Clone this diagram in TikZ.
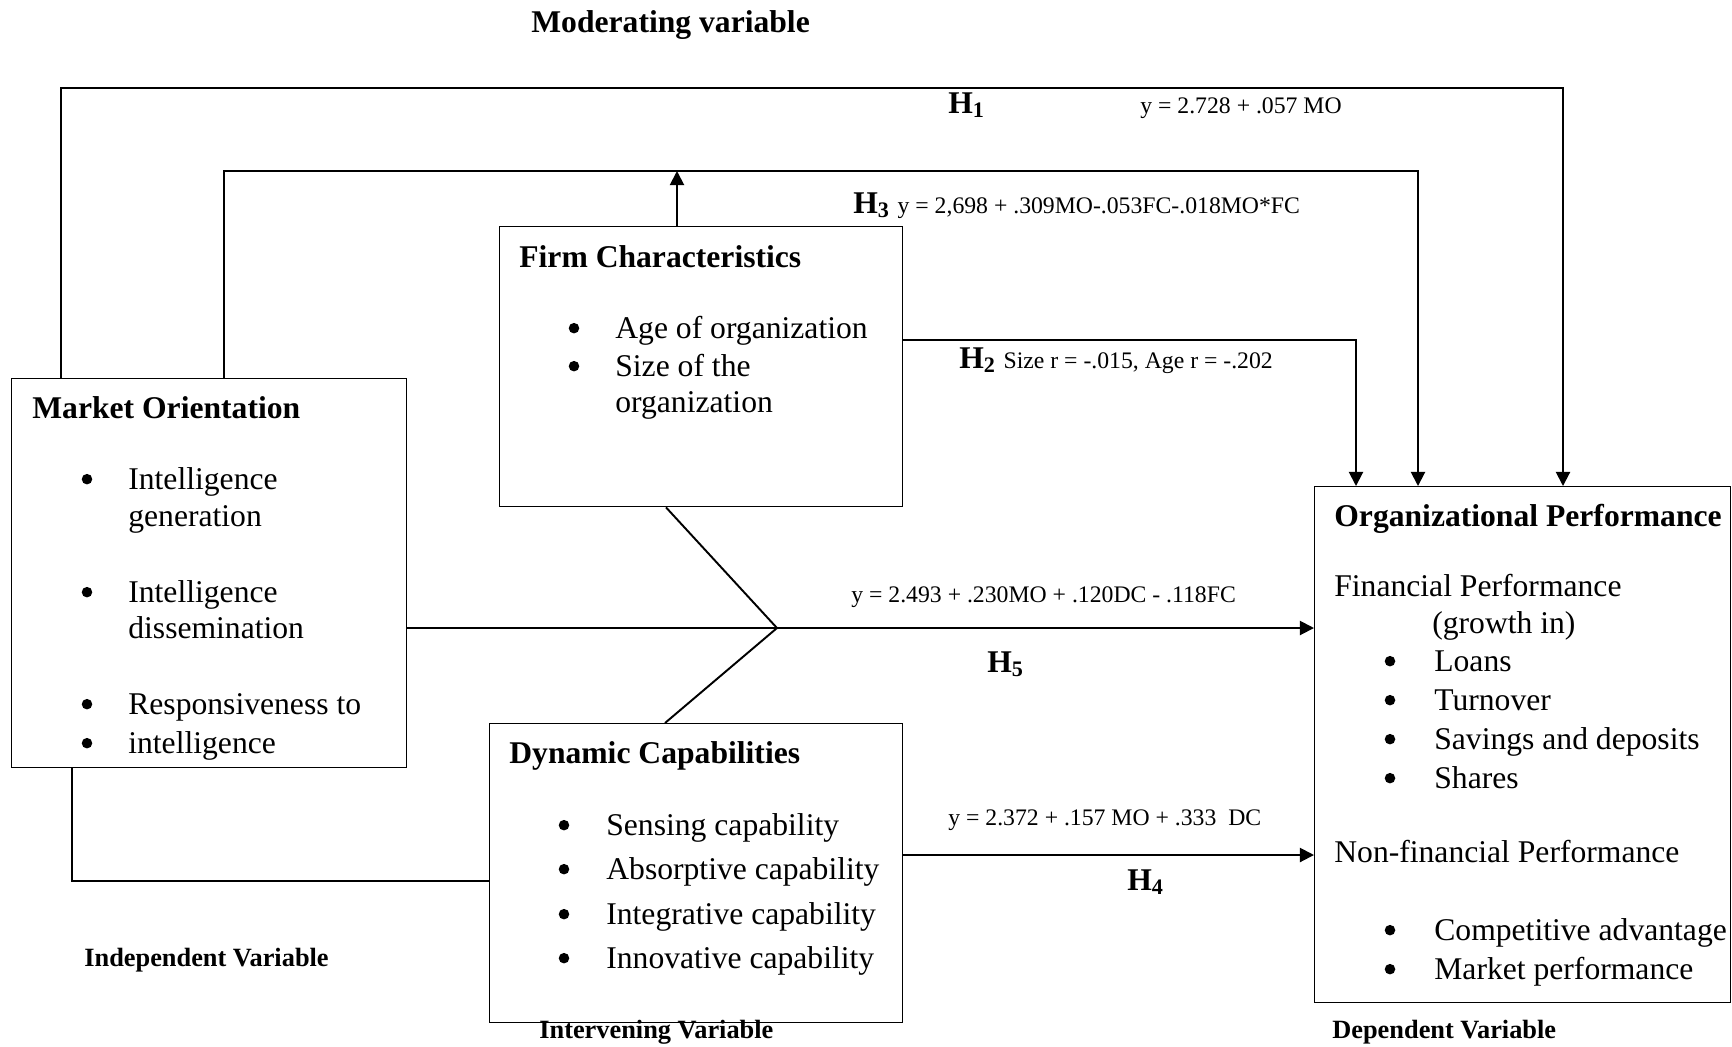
\documentclass[tikz,border=0pt]{standalone}
\usepackage{fontspec}
\setmainfont{Liberation Serif}
\usetikzlibrary{arrows.meta,positioning,calc}
\tikzset{
  %Define standard arrow tip
  >={Triangle[length=8pt,width=8pt]},
  %Define style for boxes
  boks/.style={
    rectangle,
    draw=black, line width=0.8pt,
    anchor=north west,
    inner sep=0pt},
  %Define style for the text lines in the boxes
  linje/.style={
    anchor=base west,
    inner sep=0pt,
    font=\fontsize{18}{22}\selectfont},
  tittel/.style={linje, font=\fontsize{18}{22}\selectfont\bfseries},
  prikk/.style={circle, fill=black, inner sep=0pt, minimum size=6pt, yshift=5.6pt},
  %Define style for labels on the arrows
  likning/.style={anchor=base west, inner sep=0pt, font=\fontsize{13.5}{16}\selectfont},
  hyp/.style={anchor=base west, inner sep=0pt, font=\fontsize{18}{22}\selectfont\bfseries},
  variabel/.style={anchor=base west, inner sep=0pt, font=\fontsize{15}{18}\selectfont\bfseries},
  % Define arrow style
  pil/.style={
    ->,
    line width=1.1pt},
  strek/.style={line width=1.1pt}
}

\begin{document}
\begin{tikzpicture}[x=0.02cm,y=-0.02cm]
    \useasboundingbox (0,0) rectangle (1732,1046);
    % boxes
    \node[boks, minimum width=7.9cm, minimum height=7.78cm] (mo) at (11,378) {};
    \node[boks, minimum width=8.06cm, minimum height=5.6cm] (fc) at (499,226) {};
    \node[boks, minimum width=8.26cm, minimum height=5.98cm] (dc) at (489,723) {};
    \node[boks, minimum width=8.32cm, minimum height=10.32cm] (op) at (1314,486) {};

    % market orientation
    \node[tittel] (motit) at (32,418) {Market Orientation};
    \node[prikk] (mob1) at (87,489) {};
    \node[linje] (mot1) at (128,489) {Intelligence};
    \node[linje] (mot1b) at (128,526) {generation};
    \node[prikk] (mob2) at (87,602) {};
    \node[linje] (mot2) at (128,602) {Intelligence};
    \node[linje] (mot2b) at (128,638) {dissemination};
    \node[prikk] (mob3) at (87,714) {};
    \node[linje] (mot3) at (128,714) {Responsiveness to};
    \node[prikk] (mob4) at (87,753) {};
    \node[linje] (mot4) at (128,753) {intelligence};

    % firm characteristics
    \node[tittel] (fctit) at (519,267) {Firm Characteristics};
    \node[prikk] (fcb1) at (574,338) {};
    \node[linje] (fct1) at (615,338) {Age of organization};
    \node[prikk] (fcb2) at (574,376) {};
    \node[linje] (fct2) at (615,376) {Size of the};
    \node[linje] (fct2b) at (615,412) {organization};

    % dynamic capabilities
    \node[tittel] (dctit) at (509,763) {Dynamic Capabilities};
    \node[prikk] (dcb1) at (564,835) {};
    \node[linje] (dct1) at (606,835) {Sensing capability};
    \node[prikk] (dcb2) at (564,879) {};
    \node[linje] (dct2) at (606,879) {Absorptive capability};
    \node[prikk] (dcb3) at (564,924) {};
    \node[linje] (dct3) at (606,924) {Integrative capability};
    \node[prikk] (dcb4) at (564,968) {};
    \node[linje] (dct4) at (606,968) {Innovative capability};

    % organizational performance
    \node[tittel] (optit) at (1334,526) {Organizational Performance};
    \node[linje] (opfin) at (1334,596) {Financial Performance};
    \node[linje] (opgro) at (1432,633) {(growth in)};
    \node[prikk] (opb1) at (1390,671) {};
    \node[linje] (opt1) at (1434,671) {Loans};
    \node[prikk] (opb2) at (1390,710) {};
    \node[linje] (opt2) at (1434,710) {Turnover};
    \node[prikk] (opb3) at (1390,749) {};
    \node[linje] (opt3) at (1434,749) {Savings and deposits};
    \node[prikk] (opb4) at (1390,788) {};
    \node[linje] (opt4) at (1434,788) {Shares};
    \node[linje] (opnon) at (1334,862) {Non-financial Performance};
    \node[prikk] (opb5) at (1390,940) {};
    \node[linje] (opt5) at (1434,940) {Competitive advantage};
    \node[prikk] (opb6) at (1390,979) {};
    \node[linje] (opt6) at (1434,979) {Market performance};

    % variable labels
    \node[hyp] (modvar) at (531,32) {Moderating variable};
    \node[variabel] (indvar) at (84,966) {Independent Variable};
    \node[variabel] (intvar) at (539,1038) {Intervening Variable};
    \node[variabel] (depvar) at (1332,1038) {Dependent Variable};

    % corner points of the connectors
    \coordinate (h1a) at (61,88);
    \coordinate (h1b) at (1563,88);
    \coordinate (h3a) at (224,171);
    \coordinate (h3b) at (1418,171);
    \coordinate (mod) at (677,171);
    \coordinate (h2) at (1356,340);
    \coordinate (knot) at (777,628);
    \coordinate (h4a) at (72,881);
    \coordinate (h4b) at (902,855);

    \draw[pil] (mo.north -| h1a) |- (h1b) -- (h1b |- op.north);
    \draw[pil] (mo.north -| h3a) |- (h3b) -- (h3b |- op.north);
    \draw[pil] (fc.north -| mod) -- (mod);
    \draw[pil] (fc.east |- h2) -- (h2) -- (h2 |- op.north);
    \draw[pil] (mo.east |- knot) -- (op.west |- knot);
    \draw[strek] ($(fc.south west)+(167,0)$) -- (knot) -- ($(dc.north west)+(176,0)$);
    \draw[strek] (mo.south -| h4a) |- (dc.west |- h4a);
    \draw[pil] (dc.east |- h4b) -- (op.west |- h4b);

    % hypotheses
    \node[hyp] (hy1) at (948,113) {H\textsubscript{1}};
    \node[likning] (eq1) at (1140,113) {y = 2.728 + .057 MO};
    \node[hyp] (hy3) at (853,213) {H\textsubscript{3}};
    \node[likning, right=4pt of hy3.base east, anchor=base west] (eq3) {y = 2,698 + .309MO-.053FC-.018MO*FC};
    \node[hyp] (hy2) at (959,368) {H\textsubscript{2}};
    \node[likning, right=4pt of hy2.base east, anchor=base west] (eq2) {Size r = -.015, Age r = -.202};
    \node[likning] (eq5) at (851,602) {y = 2.493 + .230MO + .120DC - .118FC};
    \node[hyp] (hy5) at (987,672) {H\textsubscript{5}};
    \node[likning] (eq4) at (948,825) {y = 2.372 + .157 MO + .333~~DC};
    \node[hyp] (hy4) at (1127,890) {H\textsubscript{4}};
\end{tikzpicture}
\end{document}
